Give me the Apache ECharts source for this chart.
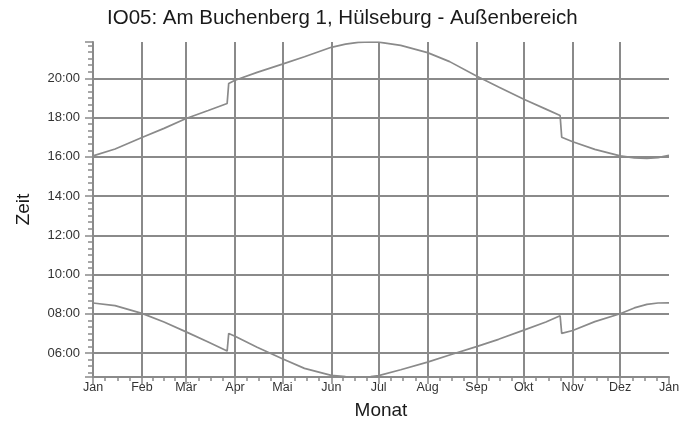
<!DOCTYPE html>
<html>
<head>
<meta charset="utf-8">
<script src="https://cdn.jsdelivr.net/npm/echarts@6/dist/echarts.min.js"></script>
<style>
html,body{margin:0;padding:0;background:#ffffff;}
#chart{width:700px;height:429px;}
</style>
</head>
<body>
<div id="chart"></div>
<script>
// ---- data ----
const titleText = 'IO05: Am Buchenberg 1, Hülseburg - Außenbereich';
const monthLabels = ['Jan','Feb','Mär','Apr','Mai','Jun','Jul','Aug','Sep','Okt','Nov','Dez'];
const dates = [
  '2021-01-01','2021-01-15','2021-02-01','2021-02-15','2021-03-01','2021-03-15',
  '2021-03-27','2021-03-28','2021-04-01','2021-04-15','2021-05-01','2021-05-15',
  '2021-06-01','2021-06-10','2021-06-18','2021-06-26','2021-07-01','2021-07-15',
  '2021-08-01','2021-08-15','2021-09-01','2021-09-15','2021-10-01','2021-10-15',
  '2021-10-24','2021-10-25','2021-11-01','2021-11-15','2021-12-01','2021-12-10',
  '2021-12-18','2021-12-25','2022-01-01'
];
// sunset (upper curve), hours
const sunset = [
  16.05,16.40,16.98,17.45,17.95,18.36,
  18.72,19.74,19.90,20.30,20.72,21.10,
  21.58,21.74,21.83,21.85,21.84,21.68,
  21.31,20.85,20.12,19.56,18.93,18.43,
  18.10,17.00,16.77,16.38,16.05,15.95,
  15.92,15.96,16.07
];
// sunrise (lower curve), hours
const sunrise = [
  8.55,8.42,8.02,7.58,7.08,6.56,
  6.10,7.00,6.86,6.30,5.71,5.22,
  4.86,4.80,4.78,4.80,4.85,5.15,
  5.54,5.90,6.33,6.70,7.17,7.58,
  7.90,7.00,7.15,7.60,8.00,8.30,
  8.48,8.55,8.56
];
const yMin = 4.78, yMax = 21.85;
const xStart = '2021-01-01', xEnd = '2022-01-01';

// ---- chart ----
function toTs(s){ const p = s.split('-').map(Number); return new Date(p[0], p[1]-1, p[2]).getTime(); }
function pairs(vals){ return dates.map((d,i)=>[toTs(d), vals[i]]); }
function hhmm(v){
  const t = Math.round(v*60); const h = Math.floor(t/60), m = t%60;
  return String(h).padStart(2,'0') + ':' + String(m).padStart(2,'0');
}
const FONT = 'Liberation Sans, Arial, sans-serif';
const GRAY = '#8a8a8a';

const chart = echarts.init(document.getElementById('chart'), null, {renderer:'canvas'});
chart.setOption({
  animation:false,
  backgroundColor:'#ffffff',
  title:{
    text:titleText, left:107, top:8, padding:0,
    textStyle:{fontFamily:FONT, fontSize:20.5, fontWeight:'normal', color:'#1a1a1a'}
  },
  grid:{left:93, right:31, top:42, bottom:52, containLabel:false},
  xAxis:{
    type:'time',
    min:toTs(xStart), max:toTs(xEnd),
    minInterval:28*86400000, maxInterval:31*86400000,
    name:'Monat', nameLocation:'middle', nameGap:24,
    nameTextStyle:{fontFamily:FONT, fontSize:19, color:'#1a1a1a'},
    axisLine:{show:true, lineStyle:{color:GRAY, width:2}},
    axisTick:{show:true, length:7, lineStyle:{color:GRAY, width:1.5}},
    minorTick:{show:true, splitNumber:4, length:4, lineStyle:{color:GRAY, width:1.5}},
    axisLabel:{
      margin:4, fontFamily:FONT, fontSize:12.5, color:'#333',
      showMinLabel:true, showMaxLabel:true, hideOverlap:false,
      formatter:function(v){ return monthLabels[new Date(v).getMonth()]; }
    },
    splitLine:{show:true, showMinLine:false, showMaxLine:false, lineStyle:{color:GRAY, width:2}}
  },
  yAxis:{
    type:'value', min:yMin, max:yMax,
    splitNumber:8, minInterval:2, maxInterval:2,
    name:'Zeit', nameLocation:'middle', nameGap:60,
    nameTextStyle:{fontFamily:FONT, fontSize:19, color:'#1a1a1a'},
    axisLine:{show:true, lineStyle:{color:GRAY, width:2}},
    axisTick:{show:true, length:8, lineStyle:{color:GRAY, width:1.5}},
    minorTick:{show:true, splitNumber:6, length:5, lineStyle:{color:GRAY, width:1.5}},
    axisLabel:{
      margin:13, fontFamily:FONT, fontSize:13, color:'#333',
      showMinLabel:false, showMaxLabel:false,
      formatter:function(v){ return hhmm(v); }
    },
    splitLine:{show:true, showMinLine:false, showMaxLine:false, lineStyle:{color:GRAY, width:2}}
  },
  series:[
    {type:'line', name:'Sonnenuntergang', data:pairs(sunset), showSymbol:false, symbol:'none',
     lineStyle:{color:GRAY, width:1.7}, z:3},
    {type:'line', name:'Sonnenaufgang', data:pairs(sunrise), showSymbol:false, symbol:'none',
     lineStyle:{color:GRAY, width:1.7}, z:3}
  ]
});
</script>
</body>
</html>
